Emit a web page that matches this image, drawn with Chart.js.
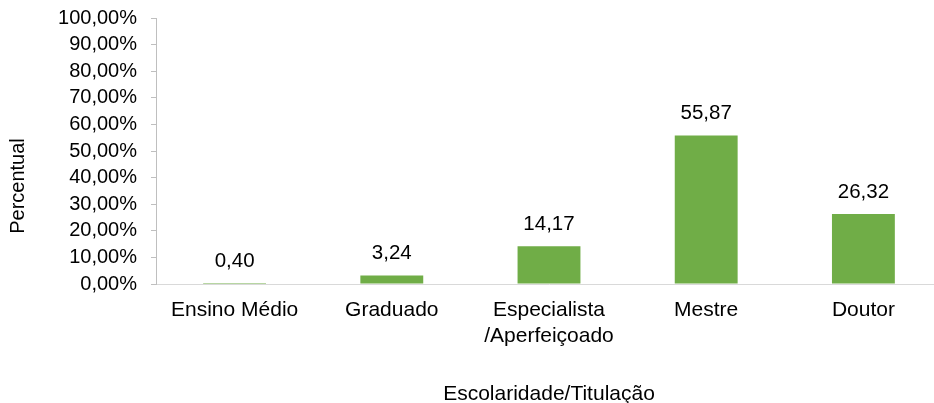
<!DOCTYPE html>
<html>
<head>
<meta charset="utf-8">
<script src="https://cdn.jsdelivr.net/npm/chart.js@4/dist/chart.umd.min.js"></script>
<style>
  html, body { margin: 0; padding: 0; background: #fff; overflow: hidden; width: 934px; height: 403px; }
  #wrap { position: relative; width: 950px; height: 403px; }
</style>
</head>
<body>
<div id="wrap"><canvas id="c" width="950" height="403"></canvas></div>
<script>
const categories = ["Ensino Médio", "Graduado", ["Especialista", "/Aperfeiçoado"], "Mestre", "Doutor"];
const values = [0.40, 3.24, 14.17, 55.87, 26.32];
const valueLabels = ["0,40", "3,24", "14,17", "55,87", "26,32"];
const yTicks = [0, 10, 20, 30, 40, 50, 60, 70, 80, 90, 100];
const xTitle = "Escolaridade/Titulação";
const yTitle = "Percentual";

const FONT = "'Liberation Sans', Arial, sans-serif";

const labelPlugin = {
  id: 'valueLabels',
  afterDatasetsDraw(chart) {
    const ctx = chart.ctx;
    const meta = chart.getDatasetMeta(0);
    ctx.save();
    ctx.font = "20.5px " + FONT;
    ctx.fillStyle = "#000";
    ctx.textAlign = "center";
    ctx.textBaseline = "middle";
    meta.data.forEach((bar, i) => {
      ctx.fillText(valueLabels[i], bar.x, bar.y - 22);
    });
    // y axis title
    ctx.font = "20px " + FONT;
    ctx.translate(18, 186);
    ctx.rotate(-Math.PI / 2);
    ctx.fillText(yTitle, 0, 0);
    ctx.restore();
  }
};

new Chart(document.getElementById('c'), {
  type: 'bar',
  data: {
    labels: categories,
    datasets: [{
      data: values,
      backgroundColor: '#70AD47',
      borderWidth: 0,
      barPercentage: 0.4,
      categoryPercentage: 1.0
    }]
  },
  options: {
    responsive: false,
    animation: false,
    devicePixelRatio: 1,
    layout: { padding: { top: 18, right: 8, left: 0, bottom: 0 } },
    plugins: { legend: { display: false }, tooltip: { enabled: false } },
    scales: {
      x: {
        grid: { display: false, drawTicks: false },
        border: { display: true, color: '#D9D9D9', width: 1 },
        ticks: { color: '#000', font: { family: FONT, size: 21, lineHeight: 1.24 }, padding: 13, maxRotation: 0, autoSkip: false },
        title: { display: true, text: xTitle, color: '#000', font: { family: FONT, size: 21, lineHeight: 1.2 }, padding: { top: 10, bottom: -4 } },
        afterFit(scale) { scale.height = 119; }
      },
      y: {
        min: 0, max: 100,
        afterBuildTicks(scale) { scale.ticks = yTicks.map(v => ({ value: v })); },
        grid: { display: true, drawOnChartArea: false, drawTicks: true, tickLength: 5, color: '#BFBFBF' },
        border: { display: true, color: '#BFBFBF', width: 1 },
        ticks: {
          color: '#000', font: { family: FONT, size: 20 }, padding: 14, autoSkip: false,
          callback: v => v.toFixed(2).replace('.', ',') + '%'
        },
        afterFit(scale) { scale.width = 156; scale.paddingTop = 0; scale.paddingBottom = 0; }
      }
    }
  },
  plugins: [labelPlugin]
});
</script>
</body>
</html>
